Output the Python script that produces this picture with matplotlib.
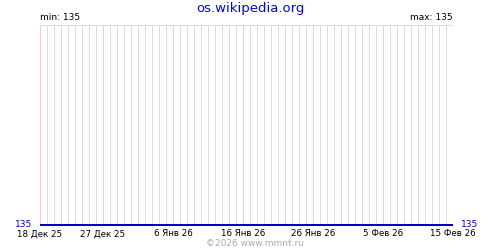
import datetime
import numpy as np
import matplotlib
matplotlib.use("Agg")
import matplotlib.pyplot as plt
import matplotlib.dates as mdates

# данные
start = datetime.date(2025, 12, 18)
days = [start + datetime.timedelta(days=i) for i in range(60)]
values = [135, 135, 135, 135, 135, 135, 135, 135, 135, 135,
          135, 135, 135, 135, 135, 135, 135, 135, 135, 135,
          135, 135, 135, 135, 135, 135, 135, 135, 135, 135,
          135, 135, 135, 135, 135, 135, 135, 135, 135, 135,
          135, 135, 135, 135, 135, 135, 135, 135, 135, 135,
          135, 135, 135, 135, 135, 135, 135, 135, 135, 135]
label_days = [datetime.date(2025, 12, 18), datetime.date(2025, 12, 27),
              datetime.date(2026, 1, 6), datetime.date(2026, 1, 16),
              datetime.date(2026, 1, 26), datetime.date(2026, 2, 5),
              datetime.date(2026, 2, 15)]
tick_labels = ["18 Дек 25", "27 Дек 25", "6 Янв 26", "16 Янв 26",
               "26 Янв 26", "5 Фев 26", "15 Фев 26"]
title = "os.wikipedia.org"

plt.rcParams['font.family'] = ['DejaVu Sans']

fig = plt.figure(figsize=(5, 2.5), dpi=100)
ax = fig.add_axes([0.08, 0.1, 0.826, 0.8])

px = 72.0 / 100  # 1 пиксель в пунктах
x = mdates.date2num(days)
# сетка по дням: розовые линии у подписанных дат, серые у остальных
for d in days:
    if d in label_days:
        ax.axvline(mdates.date2num(d), color="#ffc8c8", lw=px, zorder=2,
                   snap=True)
    else:
        ax.axvline(mdates.date2num(d), color="#dddddd", lw=px, zorder=1,
                   snap=True)
ax.axhline(136, color="#dddddd", lw=px, zorder=1, snap=True)

ax.plot(x, values, color="#0000cc", lw=2 * px, zorder=3, clip_on=False,
        snap=True, solid_capstyle="butt")

ax.set_xlim(x[0], x[-1])
ax.set_ylim(135, 136)
for s in ax.spines.values():
    s.set_visible(False)

ax.set_xticks(mdates.date2num(label_days))
ax.set_xticklabels(tick_labels, fontsize=6.3)
ax.tick_params(axis="x", length=0, pad=3)
ax.set_yticks([])

ax.text(-0.02, -0.01, "135", transform=ax.transAxes, ha="right",
        va="baseline", color="#0000cc", fontsize=6.5)
ax.text(1.02, -0.01, "135", transform=ax.transAxes, ha="left",
        va="baseline", color="#0000cc", fontsize=6.5)
ax.text(0, 1.015, "min: 135", transform=ax.transAxes, ha="left", va="bottom",
        fontsize=6.5)
ax.text(1, 1.015, "max: 135", transform=ax.transAxes, ha="right", va="bottom",
        fontsize=6.5)

fig.text(0.5, 0.965, title, ha="center", va="center", color="#0000ff",
         fontsize=9.5)
fig.text(0.51, 0.028, "©2026 www.mmnt.ru", ha="center", va="center",
         color="#aaaaaa", fontsize=6.5)

plt.savefig("out.png", dpi=100)
